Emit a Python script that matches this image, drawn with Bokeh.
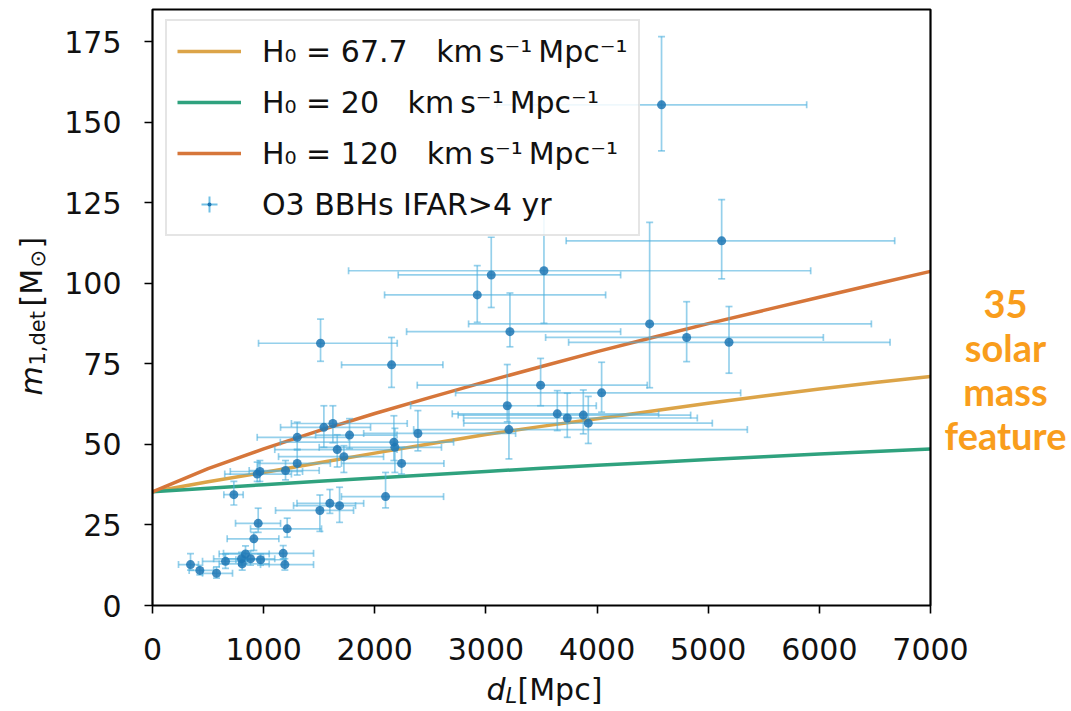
import math
from bokeh.plotting import figure
from bokeh.models import (Range1d, FixedTicker, Label, Legend, LegendItem,
                          LinearAxis, BoxAnnotation)
from bokeh.embed import file_html
from bokeh.resources import INLINE

# ---- events (O3 BBHs, IFAR > 4 yr) : luminosity distance [Mpc] and detector-frame primary mass
dist = [4580, 5121, 3522, 3048, 2922, 3216, 1512, 2151, 4473, 4806, 5187,
        3492, 4041, 3192, 3207, 3642, 3732, 3876, 3921,
        1302, 1542, 1623, 1773, 1662, 1722, 2172, 2181, 2388, 2241, 1302,
        1197, 942, 966, 732, 2097,
        1596, 1683, 1506, 951, 1212, 912, 837, 801, 807, 882, 657, 1176,
        1191, 342, 426, 576, 972]
dist_low = [3100, 3722, 1764, 2211, 2088, 2286, 954, 1701, 2844, 3537, 3744,
            2382, 2727, 2322, 2350, 2697, 2799, 2750, 2800,
            942, 1152, 1250, 1467, 1100, 1134, 1150, 1500, 1900, 1700, 950,
            870, 650, 700, 642, 1700,
            1300, 1269, 1107, 747, 882, 672, 600, 550, 600, 650, 450, 639,
            972, 234, 330, 450, 750]
dist_high = [5886, 6678, 5922, 4212, 4077, 4212, 2202, 2613, 6468, 6036, 6636,
             4452, 5292, 3993, 5352, 4554, 4902, 4842, 5037,
             1764, 1962, 2292, 2200, 2200, 2079, 2709, 2600, 3267, 2622, 1600,
             1500, 1250, 1350, 816, 2619,
             1900, 1827, 1809, 1152, 1521, 1137, 1050, 1000, 1050, 1100, 850, 1449,
             1449, 414, 550, 720, 1200]
mass = [155.4, 113.2, 103.9, 102.6, 96.4, 85.0, 81.4, 74.7, 87.4, 83.2, 81.7,
        68.4, 66.0, 62.0, 54.6, 59.5, 58.2, 59.1, 56.6,
        52.2, 55.3, 56.5, 52.9, 48.4, 46.2, 50.7, 49.1, 53.4, 44.1, 44.1,
        41.9, 40.8, 41.6, 34.4, 33.8,
        31.7, 31.0, 29.5, 25.5, 23.8, 20.7, 16.0, 14.5, 12.9, 14.5, 13.7, 16.2,
        12.7, 12.7, 10.9, 10.0, 14.2]
mass_low = [141.1, 101.4, 87.6, 92.5, 87.9, 80.3, 75.8, 67.7, 67.6, 75.7, 72.1,
            62.0, 60.0, 57.0, 45.5, 54.3, 52.2, 53.3, 50.3,
            48.3, 49.1, 50.5, 48.7, 43.0, 41.3, 45.0, 41.3, 48.0, 40.8, 40.5,
            39.0, 38.5, 38.5, 31.2, 30.3,
            28.6, 25.8, 23.0, 22.7, 21.2, 17.1, 14.0, 12.5, 11.0, 12.5, 11.5, 14.5,
            11.0, 11.0, 9.5, 8.5, 12.5]
mass_high = [176.6, 126.0, 125.0, 114.3, 105.5, 97.0, 88.9, 83.2, 118.9, 94.3, 92.8,
             76.7, 75.5, 74.8, 62.0, 66.7, 65.9, 66.9, 64.9,
             56.9, 62.0, 62.0, 58.0, 53.0, 49.6, 58.9, 55.0, 60.5, 49.1, 48.5,
             45.0, 44.5, 45.0, 38.5, 41.3,
             36.0, 36.7, 34.3, 30.2, 27.1, 22.7, 18.5, 16.5, 15.0, 17.0, 16.0, 18.6,
             14.5, 16.1, 12.5, 12.0, 16.0]

# ---- detector-frame mass of a 35 Msun feature vs distance
curve_dist = [0, 500, 1000, 1500, 2000, 2500, 3000, 3500, 4000, 4500, 5000, 5500, 6000, 6500, 7000]
m_h0_67 = [35.3, 38.4, 41.3, 44.3, 47.3, 50.2, 53.1, 55.6, 58.0, 60.4, 62.8, 65.0, 67.2, 69.2, 71.1]
m_h0_20 = [35.3, 36.4, 37.5, 38.6, 39.6, 40.6, 41.6, 42.6, 43.5, 44.4, 45.3, 46.2, 47.0, 47.8, 48.6]
m_h0_120 = [35.3, 42.5, 48.6, 54.3, 59.6, 64.6, 69.5, 74.2, 78.8, 83.2, 87.5, 91.6, 95.7, 99.7, 103.7]

x_ticks = [0, 1000, 2000, 3000, 4000, 5000, 6000, 7000]
y_ticks = [0, 25, 50, 75, 100, 125, 150, 175]

NB = "\u00a0"
legend_labels = ["H\u2080 = 67.7" + NB * 3 + "km\u2009s\u207b\u00b9\u2009Mpc\u207b\u00b9",
                 "H\u2080 = 20" + NB * 3 + "km\u2009s\u207b\u00b9\u2009Mpc\u207b\u00b9",
                 "H\u2080 = 120" + NB * 3 + "km\u2009s\u207b\u00b9\u2009Mpc\u207b\u00b9",
                 "O3 BBHs IFAR>4 yr"]
feature_text = ["35", "solar", "mass", "feature"]

FONT = "DejaVu Sans"
C67, C20, C120 = "#DCA448", "#2FA27E", "#D6763A"
ERR = "#4FB0DE"
DOT = "#1F77B4"

XMAX, YMAX = 7000, 185
W, H = 1071, 711
# frame of the data area in page pixels
FL, FR, FT, FB = 152, 930, 9, 605


def dx(px):  # page pixel -> data x
    return (px - FL) * XMAX / (FR - FL)


def dy(py):  # page pixel -> data y
    return (FB - py) * YMAX / (FB - FT)


p = figure(width=W, height=H, x_range=Range1d(dx(0), dx(W)), y_range=Range1d(dy(H), dy(0)),
           output_backend="svg", toolbar_location=None,
           x_axis_location=None, y_axis_location=None,
           min_border_left=0, min_border_right=0, min_border_top=0, min_border_bottom=0)
p.grid.visible = False
p.outline_line_color = None
p.background_fill_color = "white"
p.border_fill_color = "white"

xaxis = LinearAxis(fixed_location=0, ticker=FixedTicker(ticks=x_ticks))
yaxis = LinearAxis(fixed_location=0, ticker=FixedTicker(ticks=y_ticks))
for ax in (xaxis, yaxis):
    ax.axis_line_color = None
    ax.major_tick_line_color = "black"
    ax.major_tick_line_width = 1.6
    ax.major_tick_out = 8
    ax.major_tick_in = 0
    ax.minor_tick_line_color = None
    ax.major_label_text_font = FONT
    ax.major_label_text_font_size = "30px"
    ax.major_label_text_color = "#111111"
xaxis.major_label_standoff = 24
yaxis.major_label_standoff = 23
p.add_layout(xaxis, "below")
p.add_layout(yaxis, "left")

# frame box around the data area
p.add_layout(BoxAnnotation(left=0, right=XMAX, bottom=0, top=YMAX, fill_alpha=0,
                           line_color="black", line_alpha=1.0, line_width=2.2, level="overlay"))

# curves
r67 = p.line(curve_dist, m_h0_67, line_color=C67, line_width=3.5)
r20 = p.line(curve_dist, m_h0_20, line_color=C20, line_width=3.5)
r120 = p.line(curve_dist, m_h0_120, line_color=C120, line_width=3.5)

# error bars
p.segment(x0=dist_low, y0=mass, x1=dist_high, y1=mass, line_color=ERR, line_alpha=0.6, line_width=1.7)
p.segment(x0=dist, y0=mass_low, x1=dist, y1=mass_high, line_color=ERR, line_alpha=0.6, line_width=1.7)
p.scatter(dist_low + dist_high, mass + mass, marker="dash", angle=math.pi / 2, size=7,
          line_color=ERR, line_alpha=0.6, line_width=1.7)
p.scatter(dist + dist, mass_low + mass_high, marker="dash", size=7,
          line_color=ERR, line_alpha=0.6, line_width=1.7)
p.scatter(dist, mass, marker="circle", size=9, fill_color=DOT, fill_alpha=0.85, line_color=None)

# legend-only glyphs for the error-bar entry (placed outside the visible range)
rl_cross = p.scatter([-1e5], [-1e5], marker="cross", size=16, line_color=ERR, line_alpha=0.8, line_width=2)
rl_dot = p.scatter([-1e5], [-1e5], marker="dot", size=16, line_color=DOT, fill_color=DOT, line_width=2)

PAD, GH, SP = 10, 40, 11
LEG_H = 2 * PAD + 4 * GH + 3 * SP
legend = Legend(items=[LegendItem(label=legend_labels[0], renderers=[r67]),
                       LegendItem(label=legend_labels[1], renderers=[r20]),
                       LegendItem(label=legend_labels[2], renderers=[r120]),
                       LegendItem(label=legend_labels[3], renderers=[rl_cross, rl_dot])],
                location=(165, H - 23 - LEG_H))
legend.label_text_font = FONT
legend.label_text_font_size = "30px"
legend.label_text_color = "#111111"
legend.glyph_width = 64
legend.glyph_height = GH
legend.label_height = GH
legend.label_standoff = 21
legend.spacing = SP
legend.padding = PAD
legend.margin = 0
legend.border_line_color = "#cccccc"
legend.border_line_width = 2
legend.background_fill_alpha = 0.85
p.add_layout(legend)


def lab(x, y, t, size, style="normal", angle=0.0, color="#111111", align="left", font=FONT):
    p.add_layout(Label(x=x, y=y, text=t, text_font=font, text_font_size=size,
                       text_font_style=style, angle=angle, text_color=color,
                       text_align=align, text_baseline="alphabetic"))


# x label: d_L[Mpc]
lab(dx(486), dy(689), "d", "30px", "italic")
lab(dx(505), dy(695), "L", "21px", "italic")
lab(dx(517), dy(689), "[Mpc]", "30px")

# y label: m_{1,det}[M_sun]  (rotated, reads bottom to top)
A = math.pi / 2
lab(dx(31), dy(395), "m", "30px", "italic", A)
lab(dx(37), dy(365), "1,det", "21px", "normal", A)
lab(dx(31), dy(306), "[M", "30px", "normal", A)
lab(dx(37), dy(267), "\u2299", "21px", "normal", A)
lab(dx(31), dy(248), "]", "30px", "normal", A)

# side note
for t, base in zip(feature_text, [303, 346, 390, 434]):
    lab(dx(1005), dy(base), t, "38px", "bold", 0.0, "#F99D1C", "center", "Lato")

open("out.html", "w").write(file_html(p, INLINE))
